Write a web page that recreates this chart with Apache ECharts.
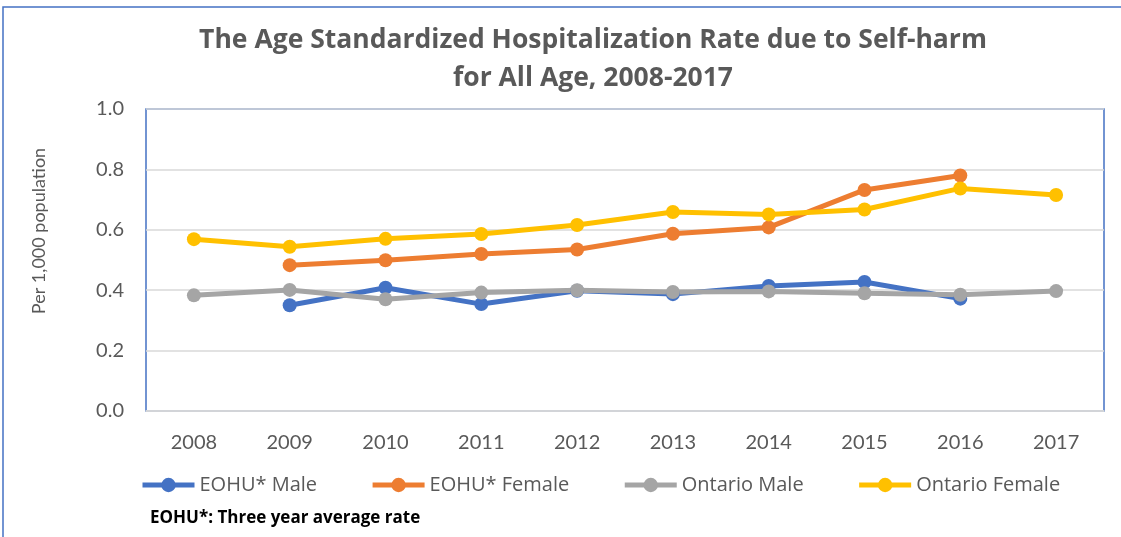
<!DOCTYPE html>
<html>
<head>
<meta charset="utf-8">
<script src="https://cdn.jsdelivr.net/npm/echarts@6/dist/echarts.min.js"></script>
<style>
html, body { margin: 0; padding: 0; background: #fff; }
#chart { width: 1121px; height: 537px; }
</style>
</head>
<body>
<div id="chart"></div>
<script>
var years = ['2008', '2009', '2010', '2011', '2012', '2013', '2014', '2015', '2016', '2017']
var eohuMale = [null, 0.350, 0.408, 0.354, 0.398, 0.387, 0.414, 0.427, 0.372, null]
var eohuFemale = [null, 0.483, 0.499, 0.520, 0.535, 0.587, 0.608, 0.732, 0.780, null]
var ontarioMale = [0.383, 0.401, 0.370, 0.392, 0.400, 0.394, 0.396, 0.390, 0.385, 0.397]
var ontarioFemale = [0.569, 0.544, 0.570, 0.586, 0.616, 0.659, 0.651, 0.667, 0.737, 0.715]
var yTicks = [0, 0.2, 0.4, 0.6, 0.8, 1.0]

var font = 'Lato, "Open Sans", sans-serif'
var wide = '"Open Sans", Lato, sans-serif'
var grey = '#595959'

function line (name, data, color) {
  return {
    name: name,
    type: 'line',
    data: data,
    symbol: 'circle',
    symbolSize: 14,
    connectNulls: false,
    lineStyle: { width: 5, color: color },
    itemStyle: { color: color },
    emphasis: { disabled: true }
  }
}

var chart = echarts.init(document.getElementById('chart'))
chart.setOption({
  animation: false,
  textStyle: { fontFamily: font },
  title: {
    text: 'The Age Standardized Hospitalization Rate due to Self-harm\nfor All Age, 2008-2017',
    left: 588,
    textAlign: 'center',
    top: 16,
    textStyle: { fontSize: 26.5, fontWeight: 'bold', color: grey, lineHeight: 38, fontFamily: wide }
  },
  graphic: [{
    type: 'rect',
    shape: { x: 3, y: 7, width: 1130, height: 545 },
    style: { fill: 'none', stroke: '#4472C4', lineWidth: 1.5 },
    silent: true
  }, {
    type: 'text',
    left: 150,
    top: 510,
    style: { text: 'EOHU*: Three year average rate', fontSize: 17, fontWeight: 'bold', fill: '#000', fontFamily: wide }
  }],
  legend: {
    left: 135,
    top: 470,
    itemWidth: 52,
    itemHeight: 18,
    itemGap: 53,
    lineStyle: { width: 5 },
    textStyle: { fontSize: 20, color: grey, fontFamily: wide },
    data: ['EOHU* Male', 'EOHU* Female', 'Ontario Male', 'Ontario Female']
  },
  grid: {
    left: 146,
    top: 109,
    right: 17,
    bottom: 126,
    show: true,
    borderColor: '#4472C4',
    borderWidth: 1.5
  },
  xAxis: {
    type: 'category',
    data: years,
    boundaryGap: true,
    axisLine: { lineStyle: { color: '#d9d9d9', width: 1.5 } },
    axisTick: { show: false },
    axisLabel: { fontSize: 20, color: grey, margin: 22 }
  },
  yAxis: {
    type: 'value',
    min: yTicks[0],
    max: yTicks[yTicks.length - 1],
    interval: 0.2,
    name: 'Per 1,000 population',
    nameLocation: 'middle',
    nameGap: 98,
    nameTextStyle: { fontSize: 18, color: grey, padding: [0, 0, 0, 58] },
    axisLine: { show: false },
    axisTick: { show: false },
    splitLine: { lineStyle: { color: '#d9d9d9', width: 1.5 } },
    axisLabel: {
      fontSize: 20,
      color: grey,
      margin: 22,
      formatter: function (v) { return v.toFixed(1) }
    }
  },
  series: [
    line('EOHU* Male', eohuMale, '#4472C4'),
    line('EOHU* Female', eohuFemale, '#ED7D31'),
    line('Ontario Male', ontarioMale, '#A5A5A5'),
    line('Ontario Female', ontarioFemale, '#FFC000')
  ]
})
</script>
</body>
</html>
